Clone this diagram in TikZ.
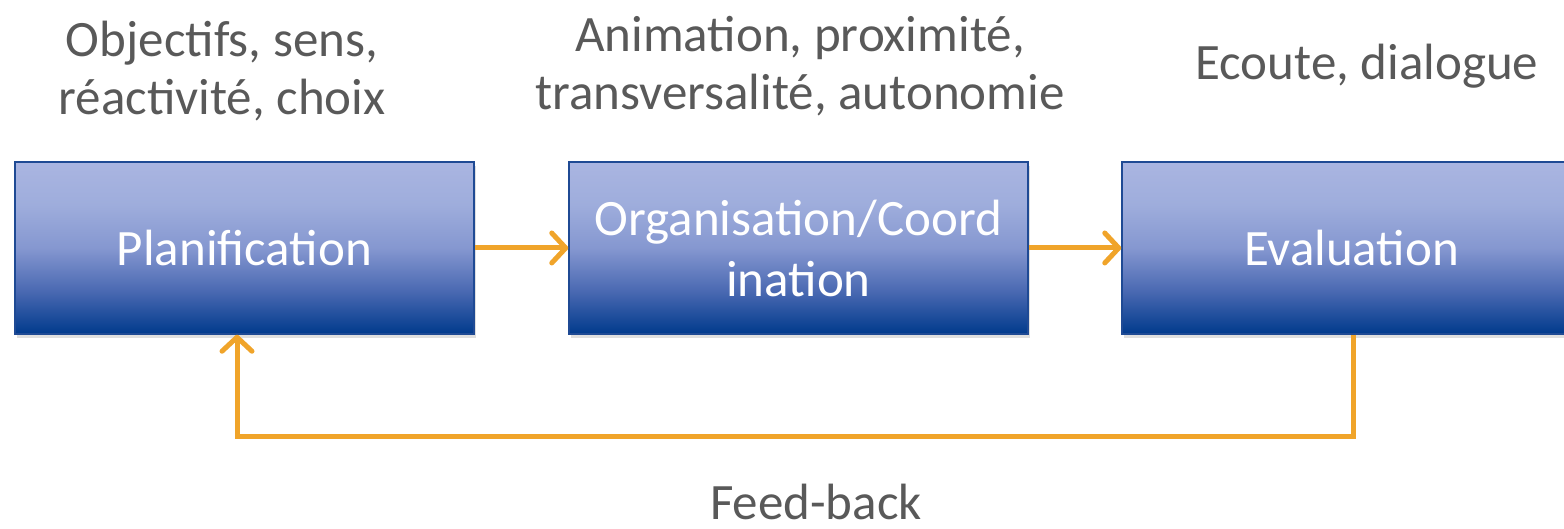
\documentclass[tikz,border=0pt]{standalone}
\usepackage{fontspec}
\setmainfont{Carlito}
\usetikzlibrary{arrows.meta,shadows}
\definecolor{boxtop}{HTML}{AAB5E1}
\definecolor{boxhigh}{HTML}{9EADDC}
\definecolor{boxmid}{HTML}{8597D0}
\definecolor{boxlow}{HTML}{4A69B2}
\definecolor{boxbot}{HTML}{003A8C}
\definecolor{boxline}{HTML}{1F4A94}
\definecolor{flowcol}{HTML}{F0A42A}
\definecolor{textgray}{HTML}{595959}
\pgfdeclareverticalshading{stageshade}{100bp}{color(0bp)=(boxbot); color(25bp)=(boxbot);
	color(37.5bp)=(boxlow); color(50bp)=(boxmid); color(62.5bp)=(boxhigh); color(75bp)=(boxtop); color(100bp)=(boxtop)}
\tikzset{
	stage/.style={draw=boxline, line width=1.5pt, shading=stageshade,
		minimum width=459pt, minimum height=172pt, inner sep=0pt, align=center, text=white,
		font=\fontsize{51}{61}\selectfont,
		drop shadow={opacity=0.25, shadow xshift=2pt, shadow yshift=-4pt}},
	caption/.style={text=textgray, align=center, font=\fontsize{51}{58}\selectfont, inner sep=0pt},
	flow/.style={draw=flowcol, line width=5pt, -{Straight Barb[length=14pt,width=30pt,line cap=round,line join=round]}}
}
\begin{document}
\begin{tikzpicture}[x=1pt,y=1pt]
	\useasboundingbox (0,0) rectangle (1564,529);
	% etapes
	\node[stage] (plan) at (244.5,281) {Planification};
	\node[stage] (orga) at (798.5,281) {Organisation/Coord\\ination};
	\node[stage] (eval) at (1351.5,281) {Evaluation};
	% textes au-dessus
	\node[caption, anchor=base] (obj) at (222,414) {Objectifs, sens,\\réactivité, choix};
	\node[caption, anchor=base] (anim) at (800,419) {Animation, proximité,\\transversalité, autonomie};
	\node[caption, anchor=base] (ecoute) at (1367,449) {Ecoute, dialogue};
	\node[caption, anchor=base] (feedback) at (816,9) {Feed-back};
	% fleches
	\draw[flow] (plan) -- (orga);
	\draw[flow] (orga) -- (eval);
	\draw[flow] ([xshift=1.5pt]eval.south) -- ++(0,-102) -| ([xshift=-7.5pt]plan.south);
\end{tikzpicture}
\end{document}
